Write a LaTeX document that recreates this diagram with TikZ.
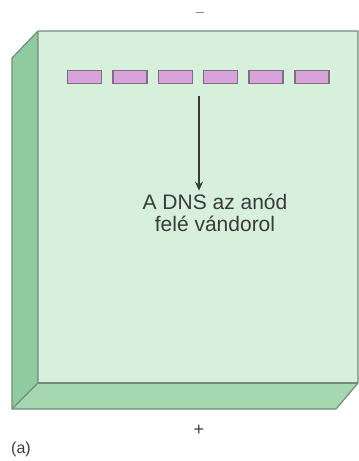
\documentclass[tikz,border=0pt]{standalone}
\usepackage{fontspec}
\setmainfont{Liberation Sans}
\usepackage{xcolor}
\usetikzlibrary{arrows.meta}

\definecolor{gelfront}{HTML}{D7F0DB}
\definecolor{gelside}{HTML}{8FCB9F}
\definecolor{gelbottom}{HTML}{A6D8B2}
\definecolor{gelline}{HTML}{6F8E78}
\definecolor{bandfill}{HTML}{D7A3DA}
\definecolor{bandline}{HTML}{7A7082}
\definecolor{ink}{HTML}{3A3A3A}

\begin{document}
\begin{tikzpicture}[x=1pt,y=-1pt,
    band/.style={draw=bandline,line width=1.5pt,fill=bandfill,minimum width=34pt,minimum height=13pt,inner sep=0pt}]
    \useasboundingbox (0,0) rectangle (359,461);

    % gel slab: side, bottom and front face
    \fill[gelside] (12,58) -- (38,31) -- (38,383) -- (12,409) -- cycle;
    \fill[gelbottom] (12,409) -- (38,383) -- (358,383) -- (336,409) -- cycle;
    \fill[gelfront] (38,31) rectangle (358,383);
    \draw[gelline,line width=1.2pt,line join=round]
        (12,409) -- (12,58) -- (38,31) -- (358,31) -- (358,383) -- (336,409) -- cycle;
    \draw[gelline,line width=1.2pt,line join=round] (12,409) -- (38,383) -- (38,31);
    \draw[gelline,line width=1.2pt] (38,383) -- (358,383);

    % DNA bands
    \node[band] (b1) at (84.5,77) {};
    \node[band] (b2) at (130,77) {};
    \node[band] (b3) at (175.5,77) {};
    \node[band] (b4) at (220.5,77) {};
    \node[band] (b5) at (266,77) {};
    \node[band] (b6) at (312,77) {};

    % migration
    \node[ink,align=center,font=\fontsize{21}{22}\selectfont] (txt) at (215,213)
        {A DNS az anód\\felé vándorol};
    \coordinate (start) at (199,96);
    \draw[ink,line width=1.4pt,-{Stealth[length=9pt,width=8pt]}] (start) -- (start |- txt.north);

    % electrodes
    \node[ink,font=\fontsize{14}{14}\selectfont] (minus) at (200,13) {$-$};
    \node[ink,font=\fontsize{18}{18}\selectfont] (plus) at (199,430) {+};
    \node[ink,font=\fontsize{16}{16}\selectfont] (lbl) at (21,449) {(a)};
\end{tikzpicture}
\end{document}
